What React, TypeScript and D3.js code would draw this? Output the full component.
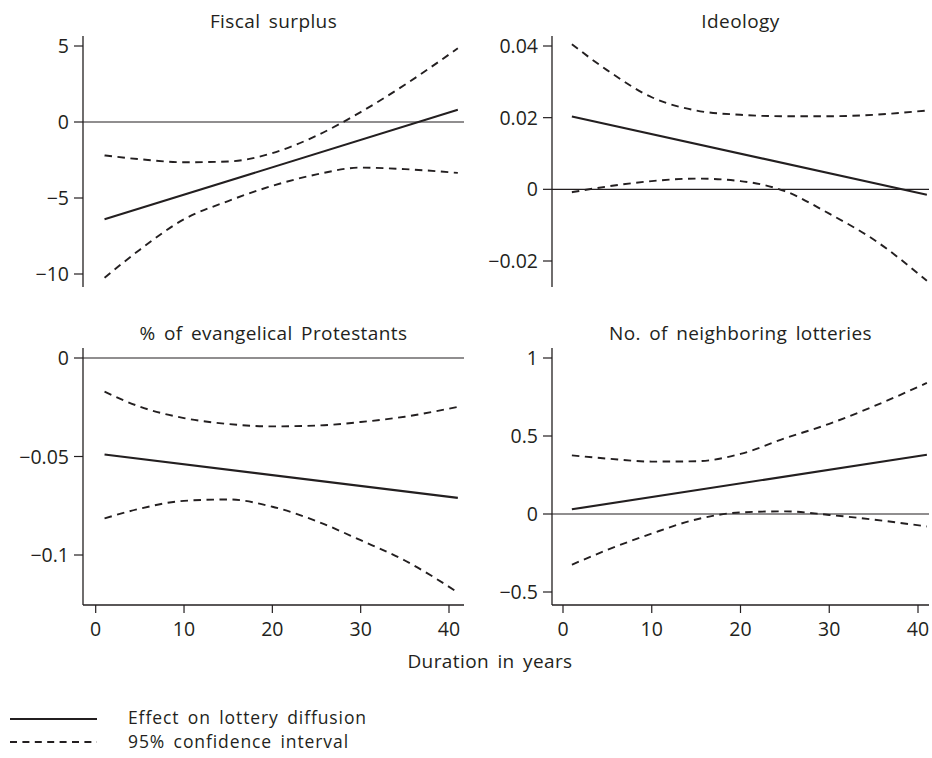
import * as d3 from 'd3';

const years = [1, 5, 10, 15, 20, 25, 30, 35, 41];
const xTicks = [0, 10, 20, 30, 40];

// Fiscal surplus
const fiscalEffect = [-6.4, 0.8];
const fiscalUpper = [-2.2, -2.45, -2.65, -2.6, -2.05, -0.9, 0.65, 2.45, 4.85];
const fiscalLower = [-10.25, -8.4, -6.4, -5.2, -4.2, -3.45, -3.0, -3.1, -3.35];
const fiscalTicks = [5, 0, -5, -10];

// Ideology
const ideologyEffect = [0.0203, -0.0015];
const ideologyUpper = [0.0405, 0.0332, 0.0257, 0.022, 0.0208, 0.0204, 0.0204, 0.0208, 0.022];
const ideologyLower = [-0.0008, 0.0008, 0.0023, 0.003, 0.0023, -0.0005, -0.0068, -0.014, -0.0255];
const ideologyTicks = [0.04, 0.02, 0, -0.02];

// % of evangelical Protestants
const protEffect = [-0.049, -0.071];
const protUpper = [-0.0171, -0.0247, -0.0305, -0.0335, -0.0347, -0.0343, -0.0325, -0.0298, -0.0248];
const protLower = [-0.0814, -0.0765, -0.0725, -0.0718, -0.0755, -0.0828, -0.0925, -0.1028, -0.119];
const protTicks = [0, -0.05, -0.1];

// No. of neighboring lotteries
const lotEffect = [0.03, 0.38];
const lotUpper = [0.376, 0.355, 0.336, 0.338, 0.385, 0.485, 0.578, 0.69, 0.84];
const lotLower = [-0.325, -0.23, -0.125, -0.035, 0.01, 0.017, -0.006, -0.036, -0.08];
const lotTicks = [1, 0.5, 0, -0.5];

const FONT = "'Open Sans', 'Noto Sans', sans-serif";
const INK = '#231f20';
const TITLE_SIZE = 19;
const TICK_SIZE = 19.5;
const LEGEND_SIZE = 17.5;

const fmt = (v: number) => (v < 0 ? '\u2212' + String(-v) : String(v));

type PanelProps = {
  title: string;
  effect: number[];
  upper: number[];
  lower: number[];
  ticks: number[];
  yDomain: [number, number];
  yRange: [number, number];
  axisX: number;
  xRange: [number, number];
  plotRight: number;
  top: number;
  bottom: number;
  titleY: number;
  showX: boolean;
};

function Panel(p: PanelProps) {
  const x = d3.scaleLinear().domain([0, 40]).range(p.xRange);
  const y = d3.scaleLinear().domain(p.yDomain).range(p.yRange);
  const solid = d3
    .line<[number, number]>()
    .x(d => x(d[0]))
    .y(d => y(d[1]));
  const curve = d3
    .line<[number, number]>()
    .x(d => x(d[0]))
    .y(d => y(d[1]))
    .curve(d3.curveMonotoneX);
  const effectPts: [number, number][] = [
    [years[0], p.effect[0]],
    [years[years.length - 1], p.effect[1]],
  ];
  const up: [number, number][] = years.map((yr, i) => [yr, p.upper[i]]);
  const lo: [number, number][] = years.map((yr, i) => [yr, p.lower[i]]);
  const cx = (p.axisX + p.plotRight) / 2;

  return (
    <g>
      <text
        x={cx}
        y={p.titleY}
        textAnchor="middle"
        fontSize={TITLE_SIZE}
        fill={INK}
        fontFamily={FONT}
        wordSpacing={3}
        letterSpacing={0.4}
      >
        {p.title}
      </text>
      {/* y axis */}
      <line x1={p.axisX} x2={p.axisX} y1={p.top} y2={p.bottom} stroke={INK} strokeWidth={1.3} />
      {p.ticks.map(t => (
        <g key={t}>
          <line x1={p.axisX - 9} x2={p.axisX} y1={y(t)} y2={y(t)} stroke={INK} strokeWidth={1.2} />
          <text
            x={p.axisX - 14}
            y={y(t)}
            dy="0.36em"
            textAnchor="end"
            fontSize={TICK_SIZE}
            fill={INK}
            fontFamily={FONT}
          >
            {fmt(t)}
          </text>
        </g>
      ))}
      {/* zero reference */}
      <line x1={p.axisX} x2={p.plotRight} y1={y(0)} y2={y(0)} stroke={INK} strokeWidth={1.2} />
      {p.showX && (
        <g>
          <line x1={p.axisX} x2={p.plotRight} y1={p.bottom} y2={p.bottom} stroke={INK} strokeWidth={1.3} />
          {xTicks.map(t => (
            <g key={t}>
              <line x1={x(t)} x2={x(t)} y1={p.bottom} y2={p.bottom + 8} stroke={INK} strokeWidth={1.2} />
              <text x={x(t)} y={p.bottom + 31} textAnchor="middle" fontSize={TICK_SIZE} fill={INK} fontFamily={FONT}>
                {t}
              </text>
            </g>
          ))}
        </g>
      )}
      <path d={curve(up) || ''} fill="none" stroke={INK} strokeWidth={1.9} strokeDasharray="7.5,5.5" />
      <path d={curve(lo) || ''} fill="none" stroke={INK} strokeWidth={1.9} strokeDasharray="7.5,5.5" />
      <path d={solid(effectPts) || ''} fill="none" stroke={INK} strokeWidth={2.1} />
    </g>
  );
}

export default function App() {
  const left = { axisX: 83, xRange: [95.7, 449] as [number, number], plotRight: 464 };
  const right = { axisX: 552, xRange: [563, 918] as [number, number], plotRight: 929 };
  const topRow = { top: 36, bottom: 287, titleY: 28, showX: false };
  const botRow = { top: 348, bottom: 605, titleY: 340, showX: true };

  return (
    <svg
      width={932}
      height={758}
      style={{ position: 'absolute', left: 0, top: 0, background: '#fff' }}
    >
      <rect width={932} height={758} fill="#fff" />
      <Panel
        title="Fiscal surplus"
        effect={fiscalEffect}
        upper={fiscalUpper}
        lower={fiscalLower}
        ticks={fiscalTicks}
        yDomain={[-10, 5]}
        yRange={[274, 46]}
        {...left}
        {...topRow}
      />
      <Panel
        title="Ideology"
        effect={ideologyEffect}
        upper={ideologyUpper}
        lower={ideologyLower}
        ticks={ideologyTicks}
        yDomain={[-0.02, 0.04]}
        yRange={[261, 46]}
        {...right}
        {...topRow}
      />
      <Panel
        title="% of evangelical Protestants"
        effect={protEffect}
        upper={protUpper}
        lower={protLower}
        ticks={protTicks}
        yDomain={[-0.1, 0]}
        yRange={[555, 358]}
        {...left}
        {...botRow}
      />
      <Panel
        title="No. of neighboring lotteries"
        effect={lotEffect}
        upper={lotUpper}
        lower={lotLower}
        ticks={lotTicks}
        yDomain={[-0.5, 1]}
        yRange={[592, 358]}
        {...right}
        {...botRow}
      />
      <text
        x={490}
        y={668}
        textAnchor="middle"
        fontSize={TITLE_SIZE}
        fill={INK}
        fontFamily={FONT}
        wordSpacing={3}
        letterSpacing={0.4}
      >
        Duration in years
      </text>
      {/* legend */}
      <line x1={10} x2={97} y1={719} y2={719} stroke={INK} strokeWidth={2} />
      <text x={128} y={724} fontSize={LEGEND_SIZE} fill={INK} fontFamily={FONT} wordSpacing={3} letterSpacing={0.9}>
        Effect on lottery diffusion
      </text>
      <line x1={10} x2={97} y1={742} y2={742} stroke={INK} strokeWidth={2} strokeDasharray="7,5.4" />
      <text x={128} y={748} fontSize={LEGEND_SIZE} fill={INK} fontFamily={FONT} wordSpacing={3} letterSpacing={0.9}>
        95% confidence interval
      </text>
    </svg>
  );
}
